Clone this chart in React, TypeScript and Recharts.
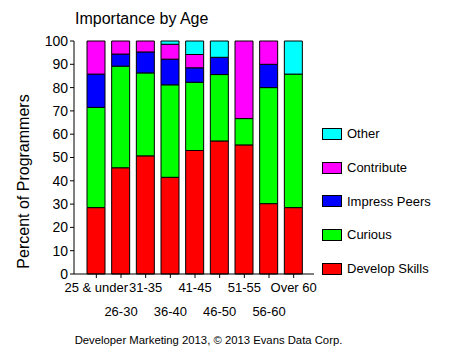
import { BarChart, Bar, XAxis, YAxis } from "recharts";

const categories = ["25 & under", "26-30", "31-35", "36-40", "41-45", "46-50", "51-55", "56-60", "Over 60"];
const developSkills = [28.5, 45.6, 50.7, 41.5, 53, 57.1, 55.4, 30.2, 28.5];
const curious = [43, 43.6, 35.6, 39.7, 29.3, 28.5, 11.3, 49.8, 57.3];
const impressPeers = [14.3, 5.2, 9, 11, 6.2, 7.4, 0, 10, 0];
const contribute = [14.2, 5.6, 4.7, 6.4, 5.7, 0, 33.3, 10, 0];
const other = [0, 0, 0, 1.4, 5.8, 7, 0, 0, 14.2];
const yTicks = [0, 10, 20, 30, 40, 50, 60, 70, 80, 90, 100];

const series = [
  { key: "develop", name: "Develop Skills", color: "#ff0000" },
  { key: "curious", name: "Curious", color: "#00ff00" },
  { key: "impress", name: "Impress Peers", color: "#0000ff" },
  { key: "contribute", name: "Contribute", color: "#ff00ff" },
  { key: "other", name: "Other", color: "#00ffff" },
];

const data = categories.map((c, i) => ({
  age: c,
  develop: developSkills[i],
  curious: curious[i],
  impress: impressPeers[i],
  contribute: contribute[i],
  other: other[i],
}));

const FONT = "'Liberation Sans', Arial, sans-serif";

function AgeTick(props: any) {
  const { x, y, payload, index } = props;
  const dy = index % 2 === 0 ? 12 : 36;
  return (
    <text x={x} y={y + dy} textAnchor="middle" fontSize={13} fontFamily={FONT} fill="#000">
      {payload.value}
    </text>
  );
}

function LegendBox() {
  const items = [...series].reverse();
  return (
    <div style={{ position: "absolute", left: 322, top: 117, fontFamily: FONT, fontSize: 13, color: "#000" }}>
      {items.map((s) => (
        <div key={s.key} style={{ display: "flex", alignItems: "center", height: 33.7 }}>
          <span
            style={{
              display: "inline-block",
              width: 18,
              height: 10,
              background: s.color,
              border: "1px solid #000",
              marginRight: 5,
            }}
          />
          {s.name}
        </div>
      ))}
    </div>
  );
}

export default function App() {
  return (
    <div style={{ position: "absolute", left: 0, top: 0, width: 449, height: 361, background: "#fff", fontFamily: FONT }}>
      <div style={{ position: "absolute", left: 75, top: 10, fontSize: 16, color: "#000" }}>Importance by Age</div>
      <BarChart
        width={449}
        height={361}
        data={data}
        margin={{ top: 41, right: 135, bottom: 47, left: 30 }}
      >
        <XAxis
          dataKey="age"
          interval={0}
          tick={<AgeTick />}
          tickSize={4}
          padding={{ left: 10, right: 8 }}
          axisLine={{ stroke: "#000" }}
          tickLine={{ stroke: "#000" }}
          height={40}
        />
        <XAxis xAxisId="top" orientation="top" dataKey="age" tick={false} tickLine={false} height={0} axisLine={{ stroke: "#808080" }} />
        <YAxis
          domain={[0, 100]}
          ticks={yTicks}
          interval={0}
          width={44}
          tickSize={4}
          tick={{ fontSize: 14, fill: "#000", fontFamily: FONT }}
          axisLine={{ stroke: "#000" }}
          tickLine={{ stroke: "#000" }}
          label={{
            value: "Percent of Programmers",
            angle: -90,
            position: "insideLeft",
            dx: -12,
            dy: 24,
            style: { fontSize: 16, fill: "#000", fontFamily: FONT, textAnchor: "middle" },
          }}
        />
        <YAxis yAxisId="right" orientation="right" domain={[0, 100]} tick={false} tickLine={false} width={0} axisLine={{ stroke: "#808080" }} />
        {series.map((s) => (
          <Bar
            key={s.key}
            dataKey={s.key}
            name={s.name}
            stackId="a"
            fill={s.color}
            stroke="#000"
            strokeWidth={1}
            barSize={18}
            isAnimationActive={false}
          />
        ))}
      </BarChart>
      <LegendBox />
      <div style={{ position: "absolute", left: 0, width: 417, top: 334, textAlign: "center", fontSize: 11.3, color: "#000" }}>
        Developer Marketing 2013, © 2013 Evans Data Corp.
      </div>
    </div>
  );
}
